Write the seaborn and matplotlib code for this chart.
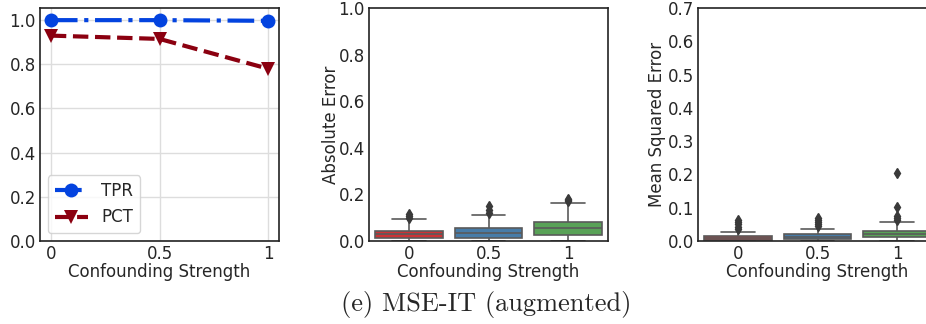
import matplotlib
matplotlib.use("Agg")
import matplotlib.pyplot as plt
import seaborn as sns
import pandas as pd

# Confounding strengths shown on every panel
strengths = ["0", "0.5", "1"]

# Detection rates per confounding strength
tpr = [1.0, 1.0, 0.997]
pct = [0.93, 0.915, 0.78]

# Absolute error samples per confounding strength
abs_err_0 = [0.001, 0.004, 0.007, 0.009, 0.011, 0.012, 0.016, 0.020, 0.023, 0.026, 0.029,
             0.032, 0.035, 0.038, 0.041, 0.045, 0.060, 0.093, 0.100, 0.108, 0.118]
abs_err_05 = [0.001, 0.004, 0.007, 0.010, 0.013, 0.015, 0.019, 0.023, 0.027, 0.030, 0.033,
              0.037, 0.041, 0.045, 0.050, 0.055, 0.070, 0.113, 0.122, 0.135, 0.150]
abs_err_1 = [0.002, 0.008, 0.013, 0.018, 0.023, 0.027, 0.033, 0.039, 0.045, 0.051, 0.057,
             0.062, 0.067, 0.072, 0.077, 0.082, 0.100, 0.164, 0.170, 0.175, 0.180]

# Mean squared error samples per confounding strength
mse_0 = [0.000, 0.001, 0.001, 0.001, 0.002, 0.002, 0.003, 0.004, 0.005, 0.006, 0.007, 0.008,
         0.010, 0.011, 0.012, 0.013, 0.013, 0.014, 0.015, 0.027, 0.036, 0.043, 0.050, 0.057, 0.063]
mse_05 = [0.000, 0.001, 0.002, 0.003, 0.004, 0.004, 0.005, 0.006, 0.007, 0.008, 0.010, 0.011,
          0.012, 0.013, 0.014, 0.016, 0.017, 0.019, 0.020, 0.036, 0.045, 0.050, 0.056, 0.062, 0.068]
mse_1 = [0.001, 0.003, 0.005, 0.007, 0.009, 0.010, 0.011, 0.013, 0.015, 0.017, 0.018, 0.020,
         0.021, 0.023, 0.024, 0.026, 0.028, 0.029, 0.031, 0.056, 0.064, 0.070, 0.076, 0.103, 0.205]

sns.set_style("white")
plt.rcParams["font.family"] = ["DejaVu Sans"]
plt.rcParams["axes.edgecolor"] = "#222222"
plt.rcParams["axes.linewidth"] = 1.2

FS = 12
fig = plt.figure(figsize=(9.26, 3.24), dpi=100)
W, H = 926, 324
def place(left_px, top_px, w_px, h_px):
    return [left_px / W, 1 - (top_px + h_px) / H, w_px / W, h_px / H]

ax1 = fig.add_axes(place(40, 8, 239, 233))
ax2 = fig.add_axes(place(369, 8, 239, 233))
ax3 = fig.add_axes(place(698, 8, 239, 233))

# Panel 1: detection rates
pos = list(range(len(strengths)))
sns.lineplot(x=pos, y=tpr, ax=ax1, color="#0343df", marker="o", markersize=10,
             linestyle="-.", linewidth=3, markeredgewidth=0, label="TPR")
sns.lineplot(x=pos, y=pct, ax=ax1, color="#8b0010", marker="v", markersize=10,
             linestyle="--", linewidth=3, markeredgewidth=0, label="PCT")
ax1.set_xlim(-0.1, 2.1)
ax1.set_ylim(0, 1.055)
ax1.set_xticks(pos)
ax1.set_xticklabels(strengths)
ax1.set_yticks([0, 0.2, 0.4, 0.6, 0.8, 1.0])
ax1.set_yticklabels(["0.0", "0.2", "0.4", "0.6", "0.8", "1.0"])
ax1.grid(True, color="#dddddd", linewidth=1)
ax1.set_axisbelow(True)
ax1.set_xlabel("Confounding Strength", fontsize=FS, labelpad=0)
ax1.set_ylabel("")
leg = ax1.legend(loc="lower left", fontsize=FS, frameon=True, handlelength=2.0,
                 borderaxespad=0, bbox_to_anchor=(0.033, 0.034))
leg.get_frame().set_edgecolor("#cccccc")

# Box panels
def long_frame(groups):
    rows = []
    for lab, vals in zip(strengths, groups):
        rows += [(lab, v) for v in vals]
    return pd.DataFrame(rows, columns=["strength", "value"])

ae_df = long_frame([abs_err_0, abs_err_05, abs_err_1])
mse_df = long_frame([mse_0, mse_05, mse_1])

box_kw = dict(x="strength", y="value", hue="strength", order=strengths, hue_order=strengths,
              palette="Set1", saturation=0.75, width=0.85, linewidth=1.2, linecolor="#5a5a5a",
              legend=False,
              flierprops=dict(marker="d", markersize=5, markerfacecolor="#3a3a3a",
                              markeredgecolor="#3a3a3a"))

sns.boxplot(data=ae_df, ax=ax2, **box_kw)
ax2.set_ylim(0, 1.0)
ax2.set_yticks([0, 0.2, 0.4, 0.6, 0.8, 1.0])
ax2.set_yticklabels(["0.0", "0.2", "0.4", "0.6", "0.8", "1.0"])
ax2.set_xlabel("Confounding Strength", fontsize=FS, labelpad=0)
ax2.set_ylabel("Absolute Error", fontsize=FS, labelpad=-1)

sns.boxplot(data=mse_df, ax=ax3, **box_kw)
ax3.set_ylim(0, 0.7)
ax3.set_yticks([0, 0.1, 0.2, 0.3, 0.4, 0.5, 0.6, 0.7])
ax3.set_yticklabels(["0.0", "0.1", "0.2", "0.3", "0.4", "0.5", "0.6", "0.7"])
ax3.set_xlabel("Confounding Strength", fontsize=FS, labelpad=0)
ax3.set_ylabel("Mean Squared Error", fontsize=FS, labelpad=1)

for ax in (ax1, ax2, ax3):
    ax.tick_params(axis="both", labelsize=FS, length=0, pad=3)
    for s in ax.spines.values():
        s.set_visible(True)
        s.set_color("#222222")

fig.text(486 / W, 1 - 304 / H, "(e) MSE-IT (augmented)", ha="center", va="center",
         fontsize=19, family=["cmr10", "DejaVu Serif"])

fig.savefig("out.png", dpi=100)
